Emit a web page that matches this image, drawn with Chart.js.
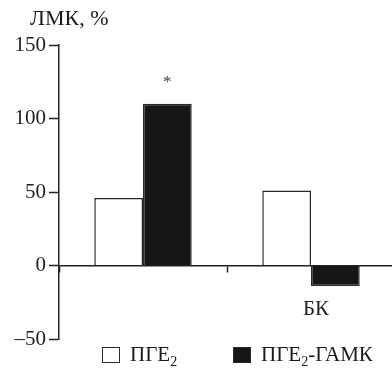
<!DOCTYPE html>
<html>
<head>
<meta charset="utf-8">
<script src="https://cdn.jsdelivr.net/npm/chart.js@4/dist/chart.umd.min.js"></script>
<style>
    body { margin: 0; width: 392px; height: 369px; overflow: hidden; background: #fff;
           font-family: 'Liberation Serif', serif; color: #1a1a1a; }
    #wrap { position: relative; width: 400px; height: 369px; }
    #yTitle { position: absolute; left: 30px; top: 7px; font-size: 22px; line-height: 1; white-space: nowrap; }
    .item { position: absolute; top: 344px; font-size: 21px; line-height: 1; white-space: nowrap; padding-left: 28px; }
    .item .swatch { position: absolute; left: 0; top: 3px; width: 16px; height: 14px; border: 1.5px solid #2a2a2a; }
    .item sub { font-size: 14px; vertical-align: -5px; line-height: 0; }
</style>
</head>
<body>
<div id="wrap">
    <div id="yTitle"></div>
    <canvas id="chart" width="400" height="369"></canvas>
    <div id="legend"></div>
</div>
<script>
// Data
const categories = ['', 'БК'];
const seriesLabels = ['ПГЕ₂', 'ПГЕ₂-ГАМК'];
const pgeValues = [46, 51];
const pgeGabaValues = [110, -14];
const pgeGabaMarks = ['*', ''];
const yTicks = [-50, 0, 50, 100, 150];
const yTitle = 'ЛМК, %';

const seriesFill = ['#ffffff', '#161616'];
const ink = '#222';
const serif = { family: "'Liberation Serif', serif", size: 21 };

// asterisk above the significant bars
const markPlugin = {
    id: 'marks',
    afterDatasetsDraw(chart) {
        const ctx = chart.ctx;
        const meta = chart.getDatasetMeta(1);
        ctx.save();
        ctx.font = "17px 'Liberation Serif', serif";
        ctx.fillStyle = '#444';
        ctx.textAlign = 'center';
        ctx.textBaseline = 'alphabetic';
        meta.data.forEach((bar, i) => {
            if (pgeGabaMarks[i]) ctx.fillText(pgeGabaMarks[i], bar.x, bar.y - 17);
        });
        ctx.restore();
    }
};

const chart = new Chart(document.getElementById('chart').getContext('2d'), {
    type: 'bar',
    data: {
        labels: categories,
        datasets: [{
            label: seriesLabels[0],
            data: pgeValues,
            backgroundColor: seriesFill[0],
            borderColor: '#2a2a2a',
            borderWidth: 1.5
        }, {
            label: seriesLabels[1],
            data: pgeGabaValues,
            backgroundColor: seriesFill[1],
            borderColor: '#2a2a2a',
            borderWidth: 1.5
        }]
    },
    options: {
        responsive: false,
        animation: false,
        layout: { padding: { left: 0, right: 5, top: 45, bottom: 30 } },
        datasets: { bar: { categoryPercentage: 0.58, barPercentage: 1.0 } },
        plugins: {
            legend: { display: false },
            tooltip: { enabled: false }
        },
        scales: {
            x: {
                type: 'category',
                position: { y: 0 },
                offset: true,
                afterFit: (scale) => { scale.height = 0; },
                grid: { offset: true, drawOnChartArea: false, tickLength: 6, tickColor: ink, tickWidth: 1.5 },
                border: { color: ink, width: 1.5 },
                ticks: { padding: 25, labelOffset: 5, color: ink, font: serif, maxRotation: 0 }
            },
            y: {
                min: yTicks[0],
                max: yTicks[yTicks.length - 1],
                afterFit: (scale) => { scale.width = 59; },
                afterBuildTicks: (scale) => { scale.ticks = yTicks.map(v => ({ value: v })); },
                grid: { drawOnChartArea: false, tickLength: 10, tickColor: ink, tickWidth: 1.5 },
                border: { color: ink, width: 1.5 },
                ticks: {
                    padding: 3,
                    color: ink,
                    font: serif,
                    callback: (v) => v < 0 ? '–' + Math.abs(v) : String(v)
                }
            }
        }
    },
    plugins: [markPlugin]
});

// title and legend as page text
document.getElementById('yTitle').textContent = yTitle;
const legendLeft = [102, 233];
const legend = document.getElementById('legend');
chart.data.datasets.forEach((ds, i) => {
    const item = document.createElement('div');
    item.className = 'item';
    item.style.left = legendLeft[i] + 'px';
    const sw = document.createElement('span');
    sw.className = 'swatch';
    sw.style.background = ds.backgroundColor;
    item.appendChild(sw);
    item.insertAdjacentHTML('beforeend', ds.label.replace('₂', '<sub>2</sub>'));
    legend.appendChild(item);
});
</script>
</body>
</html>
